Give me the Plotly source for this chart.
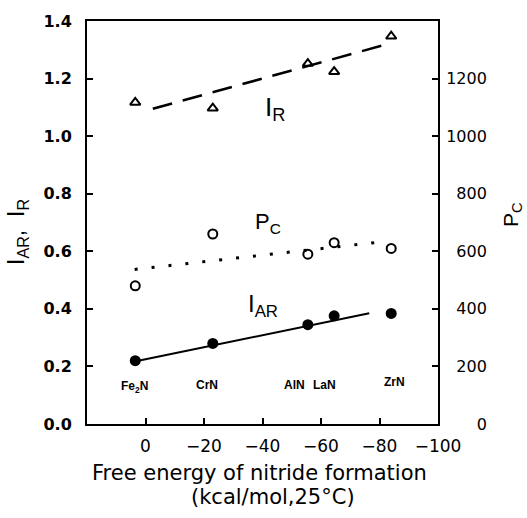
import plotly.graph_objects as go

# ---- data ----
compounds = ["Fe<sub>2</sub>N", "CrN", "AlN", "LaN", "ZrN"]
free_energy = [3.5, -23, -55.5, -64.5, -84]          # kcal/mol
i_r = [1.117, 1.097, 1.252, 1.224, 1.347]
i_ar = [0.22, 0.28, 0.345, 0.376, 0.384]
p_c = [480, 660, 590, 630, 610]

fit_ir_x = [-2.5, -81]
fit_ir_y = [1.095, 1.315]
fit_pc_x = [3.7, -80]
fit_pc_y = [537, 632]
fit_iar_x = [3.3, -76.5]
fit_iar_y = [0.218, 0.385]

label_x = [3.7, -20.9, -51, -61.3, -85.2]
label_y = [0.129, 0.134, 0.134, 0.134, 0.146]

x_ticks = [0, -20, -40, -60, -80, -100]
y_ticks = [0.0, 0.2, 0.4, 0.6, 0.8, 1.0, 1.2, 1.4]
y2_ticks = [0, 200, 400, 600, 800, 1000, 1200]
y2_ticktext = [str(v).rjust(4, "\u2007") for v in y2_ticks]

fig = go.Figure()

# fit lines
fig.add_trace(go.Scatter(x=fit_ir_x, y=fit_ir_y, mode="lines",
                         line=dict(color="black", width=2.5, dash="20px,11px"),
                         showlegend=False, hoverinfo="skip"))
fig.add_trace(go.Scatter(x=fit_iar_x, y=fit_iar_y, mode="lines",
                         line=dict(color="black", width=2),
                         showlegend=False, hoverinfo="skip"))
fig.add_trace(go.Scatter(x=fit_pc_x, y=fit_pc_y, mode="lines", yaxis="y2",
                         line=dict(color="black", width=3, dash="3px,14px"),
                         showlegend=False, hoverinfo="skip"))

# data points
fig.add_trace(go.Scatter(x=free_energy, y=i_r, mode="markers", name="I_R",
                         marker=dict(symbol="triangle-up-open", size=9, color="black",
                                     line=dict(width=2, color="black")),
                         showlegend=False))
fig.add_trace(go.Scatter(x=free_energy, y=i_ar, mode="markers", name="I_AR",
                         marker=dict(symbol="circle", size=11, color="black"),
                         showlegend=False))
fig.add_trace(go.Scatter(x=free_energy, y=p_c, mode="markers", name="P_C", yaxis="y2",
                         marker=dict(symbol="circle-open", size=9, color="black",
                                     line=dict(width=2, color="black")),
                         showlegend=False))

annotations = []
for name, lx, ly in zip(compounds, label_x, label_y):
    annotations.append(dict(x=lx, y=ly, xref="x", yref="y", text=name, showarrow=False,
                            xanchor="center", yanchor="middle",
                            font=dict(family="Liberation Sans", size=12, color="black",
                                      weight="bold")))

annotations += [
    dict(x=-40.1, y=1.097, xref="x", yref="y", text="I<sub>R</sub>", showarrow=False,
         xanchor="left", yanchor="middle",
         font=dict(family="Liberation Sans", size=26, color="black")),
    dict(x=-36.7, y=0.70, xref="x", yref="y", text="P<sub>C</sub>", showarrow=False,
         xanchor="left", yanchor="middle",
         font=dict(family="Liberation Sans", size=22, color="black")),
    dict(x=-34.2, y=0.41, xref="x", yref="y", text="I<sub>AR</sub>", showarrow=False,
         xanchor="left", yanchor="middle",
         font=dict(family="Liberation Sans", size=24, color="black")),
    # axis titles
    dict(x=(18 - 87) / 351, y=(423.5 - 230) / 406, xref="paper", yref="paper",
         text="I<sub>AR</sub>,  I<sub>R</sub>", showarrow=False, textangle=-90,
         xanchor="center", yanchor="middle",
         font=dict(family="Liberation Sans", size=23, color="black")),
    dict(x=(512 - 87) / 351, y=(423.5 - 213) / 406, xref="paper", yref="paper",
         text="P<sub>C</sub>", showarrow=False, textangle=-90,
         xanchor="center", yanchor="middle",
         font=dict(family="Liberation Sans", size=21, color="black")),
    dict(x=(259 - 87) / 351, y=(423.5 - 473) / 406, xref="paper", yref="paper",
         text="Free energy of nitride formation", showarrow=False,
         xanchor="center", yanchor="middle",
         font=dict(family="DejaVu Sans", size=21, color="black")),
    dict(x=(273 - 87) / 351, y=(423.5 - 497) / 406, xref="paper", yref="paper",
         text="(kcal/mol,25°C)", showarrow=False,
         xanchor="center", yanchor="middle",
         font=dict(family="DejaVu Sans", size=21, color="black")),
]

axis_common = dict(showline=True, linecolor="black", linewidth=2, ticks="inside",
                   ticklen=6, tickwidth=2, tickcolor="black", showgrid=False,
                   zeroline=False)

fig.update_layout(
    width=527, height=518,
    margin=dict(l=87, r=89, t=17, b=94),
    paper_bgcolor="white", plot_bgcolor="white",
    xaxis=dict(range=[20, -100], tickvals=x_ticks, mirror=True,
               tickfont=dict(family="DejaVu Sans", size=17, color="black"),
               ticklabelstandoff=6, **axis_common),
    yaxis=dict(range=[0, 1.4], tickvals=y_ticks, tickformat=".1f",
               tickfont=dict(family="DejaVu Sans", size=16, color="black", weight="bold"),
               ticklabelstandoff=10, **axis_common),
    yaxis2=dict(range=[0, 1400], overlaying="y", side="right", tickvals=y2_ticks,
                ticktext=y2_ticktext,
                tickfont=dict(family="DejaVu Sans", size=16, color="black"),
                ticklabelstandoff=3, **axis_common),
    annotations=annotations,
    showlegend=False,
)

fig.write_html("out.html")
